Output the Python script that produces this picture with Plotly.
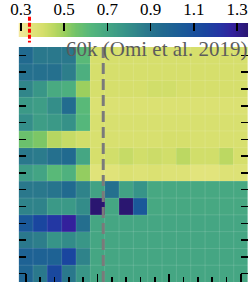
import numpy as np
import plotly.graph_objects as go

# ---------------- data ----------------
z_values = [
    [0.95, 0.88, 0.88, 0.88, 0.61, 0.40, 0.40, 0.40, 0.40, 0.40, 0.40, 0.40, 0.40, 0.40, 0.40, 0.40],
    [0.92, 0.92, 0.92, 0.86, 0.66, 0.40, 0.40, 0.40, 0.40, 0.40, 0.40, 0.40, 0.40, 0.40, 0.40, 0.40],
    [0.83, 0.77, 0.68, 0.66, 0.50, 0.40, 0.40, 0.40, 0.40, 0.41, 0.41, 0.40, 0.40, 0.40, 0.40, 0.40],
    [0.76, 0.74, 0.80, 0.94, 0.61, 0.38, 0.38, 0.38, 0.38, 0.38, 0.38, 0.38, 0.38, 0.38, 0.38, 0.38],
    [0.80, 0.74, 0.76, 0.79, 0.62, 0.39, 0.39, 0.39, 0.39, 0.39, 0.39, 0.39, 0.39, 0.39, 0.39, 0.39],
    [0.57, 0.54, 0.46, 0.43, 0.41, 0.39, 0.39, 0.39, 0.39, 0.39, 0.40, 0.40, 0.39, 0.39, 0.39, 0.39],
    [0.88, 0.87, 0.92, 0.95, 0.70, 0.40, 0.41, 0.43, 0.41, 0.42, 0.41, 0.45, 0.41, 0.41, 0.45, 0.40],
    [0.74, 0.71, 0.61, 0.65, 0.51, 0.36, 0.36, 0.38, 0.37, 0.38, 0.37, 0.37, 0.35, 0.35, 0.37, 0.37],
    [0.88, 0.88, 0.90, 0.95, 0.84, 0.72, 0.92, 0.72, 0.78, 0.69, 0.69, 0.69, 0.69, 0.69, 0.69, 0.69],
    [0.84, 0.84, 0.76, 0.76, 0.81, 1.35, 0.70, 1.35, 1.06, 0.69, 0.69, 0.69, 0.69, 0.69, 0.69, 0.69],
    [1.06, 1.15, 1.21, 1.28, 0.93, 0.70, 0.70, 0.70, 0.70, 0.70, 0.70, 0.70, 0.70, 0.70, 0.70, 0.70],
    [0.88, 0.86, 0.78, 0.81, 0.77, 0.70, 0.70, 0.70, 0.70, 0.70, 0.70, 0.70, 0.70, 0.70, 0.70, 0.70],
    [1.00, 1.00, 1.00, 1.15, 0.84, 0.70, 0.70, 0.70, 0.70, 0.70, 0.70, 0.70, 0.70, 0.70, 0.70, 0.70],
    [0.98, 0.88, 1.14, 0.88, 0.77, 0.70, 0.70, 0.70, 0.70, 0.70, 0.70, 0.70, 0.70, 0.70, 0.70, 0.70],
]
colorbar_ticks = [0.3, 0.5, 0.7, 0.9, 1.1, 1.3]
colorbar_ticktext = ["0.3", "0.5", "0.7", "0.9", "1.1", "1.3"]
z_min, z_max = 0.29, 1.35
reference_value = 0.34          # red marker on the colour bar
threshold_column = 5.4          # grey dashed vertical line (column units)
label_text = "60k (Omi et al. 2019)"

# colour scale (value -> colour)
scale_values = [0.29, 0.35, 0.40, 0.45, 0.50, 0.55, 0.62, 0.70, 0.78, 0.88,
                0.95, 1.05, 1.15, 1.22, 1.28, 1.35]
scale_colors = ["#f4e8a0", "#e2e47c", "#d6df6c", "#bcd862", "#9ccf5e", "#74c468",
                "#55b77b", "#45a683", "#379488", "#2a788c", "#216a8f", "#1a5a98",
                "#1a469f", "#2434a4", "#33209c", "#2a1670"]

# ---------------- figure ----------------
W, H = 250, 282
colorscale = [[(v - z_min) / (z_max - z_min), c] for v, c in zip(scale_values, scale_colors)]

z = np.array(z_values)
n_rows, n_cols = z.shape
serif = "Liberation Serif, Times New Roman, serif"

fig = go.Figure()
fig.add_trace(go.Heatmap(
    z=z, x=list(range(n_cols)), y=list(range(n_rows)),
    colorscale=colorscale, zmin=z_min, zmax=z_max, showscale=False,
    xaxis="x", yaxis="y", hoverinfo="skip",
))

grad = np.linspace(z_min, z_max, 400)
fig.add_trace(go.Heatmap(
    z=[grad], x=grad, y=[0],
    colorscale=colorscale, zmin=z_min, zmax=z_max, showscale=False,
    xaxis="x2", yaxis="y2", hoverinfo="skip",
))

x_dom = [11 / W, 248 / W]
fig.update_layout(
    width=W, height=H,
    margin=dict(l=0, r=0, t=0, b=0),
    paper_bgcolor="white", plot_bgcolor="white",
    showlegend=False,
    xaxis=dict(
        domain=x_dom, range=[-0.5, n_cols - 0.5],
        tickvals=list(range(0, n_cols, 5)), ticks="inside", ticklen=8,
        tickwidth=1.5, tickcolor="black", showticklabels=False,
        showgrid=False, zeroline=False, showline=False,
        minor=dict(dtick=1, tick0=0, ticks="inside", ticklen=5,
                   tickwidth=1.5, tickcolor="black", showgrid=False),
    ),
    yaxis=dict(
        domain=[0, (H - 47) / H], range=[n_rows - 0.5, -0.5],
        tickvals=list(range(n_rows)), ticks="inside", ticklen=7,
        tickwidth=1.5, tickcolor="black", showticklabels=False,
        mirror="ticks", showgrid=False, zeroline=False, showline=False,
    ),
    xaxis2=dict(
        domain=x_dom, range=[z_min, z_max], anchor="y2", side="top",
        tickvals=colorbar_ticks, ticktext=colorbar_ticktext,
        ticks="inside", ticklen=8, tickwidth=1.5, tickcolor="black",
        tickfont=dict(family=serif, size=17, color="black"),
        ticklabelstandoff=4,
        showgrid=False, zeroline=False, showline=False,
    ),
    yaxis2=dict(
        domain=[(H - 37) / H, (H - 23) / H], anchor="x2", range=[-0.5, 0.5],
        showticklabels=False, ticks="", showgrid=False, zeroline=False,
    ),
)

shapes = []
for i in range(1, n_cols):
    shapes.append(dict(type="line", xref="x", yref="y domain", x0=i - 0.5, x1=i - 0.5,
                       y0=0, y1=1, line=dict(color="rgba(255,255,255,0.13)", width=1),
                       layer="above"))
for j in range(1, n_rows):
    shapes.append(dict(type="line", xref="x domain", yref="y", x0=0, x1=1,
                       y0=j - 0.5, y1=j - 0.5, line=dict(color="rgba(255,255,255,0.13)", width=1),
                       layer="above"))
shapes.append(dict(type="line", xref="x", yref="y domain", x0=threshold_column, x1=threshold_column,
                   y0=1, y1=0, line=dict(color="#7a7a7a", width=3, dash="11px,5px"),
                   layer="above"))
shapes.append(dict(type="line", xref="x2", yref="y2 domain", x0=reference_value, x1=reference_value,
                   y0=1.45, y1=-0.4, line=dict(color="#ff0000", width=3, dash="4px,2px"),
                   layer="above"))
fig.update_layout(shapes=shapes)

fig.add_annotation(
    text=label_text, xref="paper", yref="paper",
    x=249 / W, xanchor="right", y=(H - 48.5) / H, yanchor="middle",
    showarrow=False, font=dict(family=serif, size=21, color="#5c5c5c"),
)

fig.write_html(
    "out.html",
    config={"displayModeBar": False, "staticPlot": True},
    post_script="document.body.style.margin='0';document.body.style.overflow='hidden';",
)
